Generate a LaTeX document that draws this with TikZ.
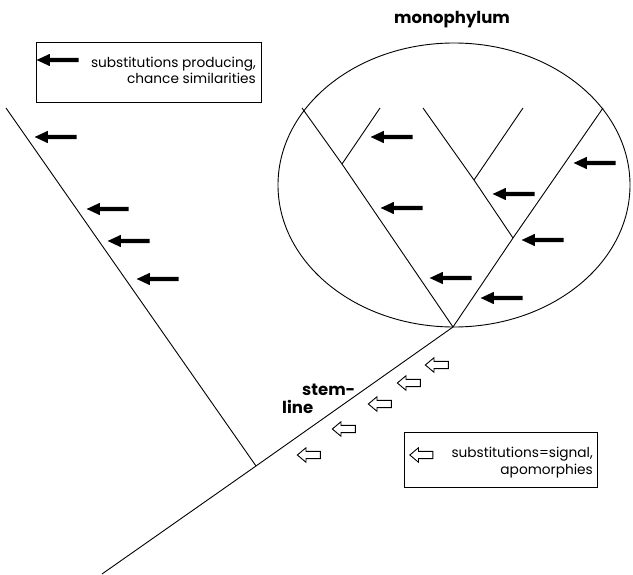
\documentclass[tikz,border=0pt]{standalone}
\usepackage{fontspec}
\setmainfont{Poppins}
\usetikzlibrary{arrows.meta,shapes.arrows}

\tikzset{
    branch/.style={line width=0.9pt},
    solidarrow/.style={single arrow, fill=black, shape border rotate=180,
        minimum height=42pt, inner xsep=0pt, inner ysep=2pt,
        single arrow head extend=4pt, single arrow tip angle=50},
    hollowarrow/.style={single arrow, draw, line width=0.9pt, shape border rotate=180,
        minimum height=23pt, inner xsep=0pt, inner ysep=3.2pt,
        single arrow head extend=3.6pt, single arrow tip angle=80},
    legendbox/.style={draw, line width=0.9pt, inner sep=0pt},
    legendtext/.style={align=right, anchor=east, font=\fontsize{13.7}{16.2}\selectfont, inner sep=0pt},
    bigword/.style={font=\fontsize{16.5}{18}\selectfont\bfseries, inner sep=0pt}
}

\begin{document}
\begin{tikzpicture}[x=1pt, y=-1pt]
    \useasboundingbox (0,0) rectangle (633,575);

    % outgroup and stem
    \coordinate (lefttip) at (6,108);
    \coordinate (base) at (256,466);
    \coordinate (bottom) at (102,574);
    \coordinate (root) at (453,327);
    \draw[branch] (lefttip) -- (base);
    \draw[branch] (bottom) -- (base) -- (root);

    % monophylum
    \draw[branch] (454,185) ellipse [x radius=176pt, y radius=142pt];
    \node[bigword] (mono) at (452,20) {monophylum};

    \coordinate (atip) at (302,108);
    \coordinate (aj) at (342,164);
    \coordinate (btip) at (380,108);
    \coordinate (ctip) at (603,108);
    \coordinate (cj) at (513,238);
    \coordinate (dtip) at (423,108);
    \coordinate (dj) at (474,180);
    \coordinate (etip) at (523,108);
    \draw[branch] (root) -- (aj) -- (atip);
    \draw[branch] (aj) -- (btip);
    \draw[branch] (root) -- (cj) -- (ctip);
    \draw[branch] (cj) -- (dj) -- (dtip);
    \draw[branch] (dj) -- (etip);

    % chance similarities
    \node[solidarrow] (s1) at (58,137) {};
    \node[solidarrow] (s2) at (110,209) {};
    \node[solidarrow] (s3) at (131,241) {};
    \node[solidarrow] (s4) at (160,279) {};
    \node[solidarrow] (m1) at (394,137) {};
    \node[solidarrow] (m2) at (404,208) {};
    \node[solidarrow] (m3) at (453,278) {};
    \node[solidarrow] (m4) at (597,163) {};
    \node[solidarrow] (m5) at (516,194) {};
    \node[solidarrow] (m6) at (545,240) {};
    \node[solidarrow] (m7) at (504,298) {};

    % signal on the stem
    \node[hollowarrow] (h1) at (439,365) {};
    \node[hollowarrow] (h2) at (411,383) {};
    \node[hollowarrow] (h3) at (382,404) {};
    \node[hollowarrow] (h4) at (346,429) {};
    \node[hollowarrow] (h5) at (311,455) {};
    \node[bigword, align=left, anchor=north west] (stem) at (282,384)
        {\hspace*{20pt}stem-\\line};

    % legends
    \node[legendbox, minimum width=225pt, minimum height=60pt] (keya) at (148.5,72) {};
    \node[solidarrow] (keyaarrow) at (60,60) {};
    \node[legendtext] (keyatext) at (256,70) {substitutions producing,\\chance similarities};

    \node[legendbox, minimum width=193pt, minimum height=55pt] (keyb) at (500.5,459.5) {};
    \node[hollowarrow] (keybarrow) at (423.5,455) {};
    \node[legendtext] (keybtext) at (593,462.5) {substitutions=signal,\\apomorphies};
\end{tikzpicture}
\end{document}
